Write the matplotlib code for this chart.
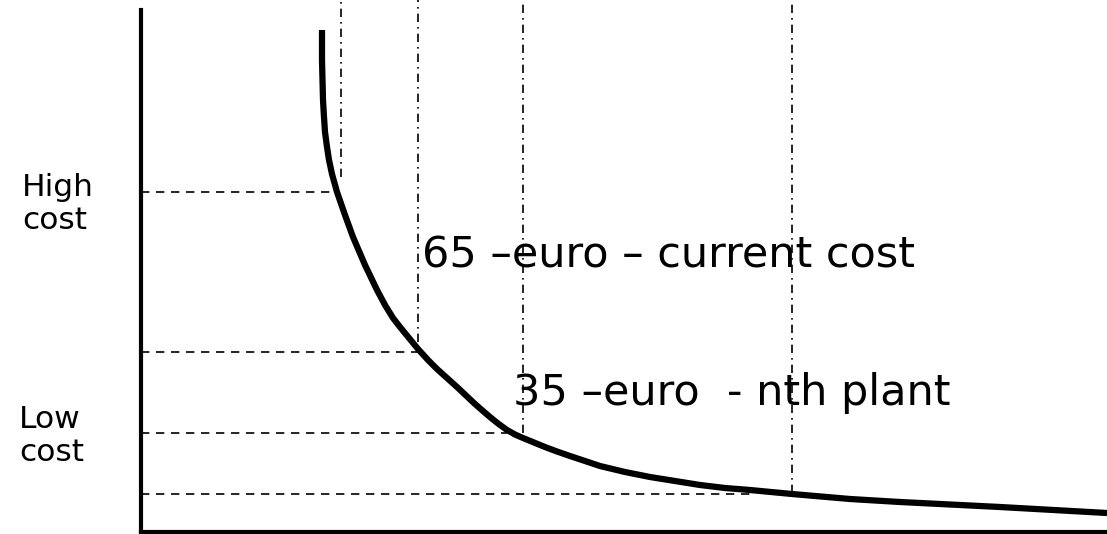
import matplotlib
matplotlib.use("Agg")
import matplotlib.pyplot as plt

# Кривая удешевления (отсчёты, оси без масштаба)
volume = [181, 181, 182, 183, 184, 186, 188, 191, 196, 204, 212, 224, 236, 244,
          252, 259, 268, 277, 287, 296, 306, 316, 325, 334, 342, 349, 357, 366,
          374, 382, 393, 404, 416, 429, 444, 459, 484, 509, 534, 559, 584, 609,
          651, 709, 759, 859, 966]
cost = [502, 472, 432, 415, 400, 385, 372, 358, 340, 317, 295, 267, 242, 227,
        214, 205, 194, 183, 172, 163, 154, 145, 136.5, 128, 121, 115, 108.5, 102,
        97.5, 94, 89.5, 85, 80.5, 76, 71, 66, 60, 55, 51, 47, 44, 42,
        38, 33, 30, 25, 19]

# Горизонтальные пунктиры: уровень и где упираются в кривую
h_levels = [340, 180, 99, 38]
h_ends = [194, 277, 366, 609]

# Вертикальные штрих-пунктиры: положение и нижний конец
v_pos = [200, 277, 382, 651]
v_ends = [355, 190, 99, 39]

labels = ["65 \u2013euro \u2013 current cost", "35 \u2013euro  - nth plant"]
label_xy = [(281, 264), (372, 127)]

plt.rcParams['font.family'] = ['DejaVu Sans']

fig = plt.figure(figsize=(11.07, 5.34), dpi=100)
ax = fig.add_axes([141 / 1107, 2 / 534, 966 / 1107, 522 / 534])
ax.set_xlim(0, 966)
ax.set_ylim(0, 522)

for y, xe in zip(h_levels, h_ends):
    ax.plot([0, xe], [y, y], color='black', lw=1.2, dashes=(5, 4))
for x, ye in zip(v_pos, v_ends):
    ax.plot([x, x], [ye, 540], color='black', lw=1.2, dashes=(5, 3, 1, 3),
            clip_on=False)

ax.plot(volume, cost, color='black', lw=4.5, solid_capstyle='butt',
        solid_joinstyle='round')

for txt, (x, y) in zip(labels, label_xy):
    ax.text(x, y, txt, fontsize=31, va='baseline', ha='left')

# Подписи оси Y
fig.text(22 / 1107, 1 - 204 / 534, "High\ncost", fontsize=22.5, va='center',
         ha='left', linespacing=1.2)
fig.text(19 / 1107, 1 - 436 / 534, "Low\ncost", fontsize=22.5, va='center',
         ha='left', linespacing=1.2)

for s in ['top', 'right']:
    ax.spines[s].set_visible(False)
for s in ['left', 'bottom']:
    ax.spines[s].set_linewidth(3)
ax.set_xticks([])
ax.set_yticks([])

fig.savefig("out.png", dpi=100)
